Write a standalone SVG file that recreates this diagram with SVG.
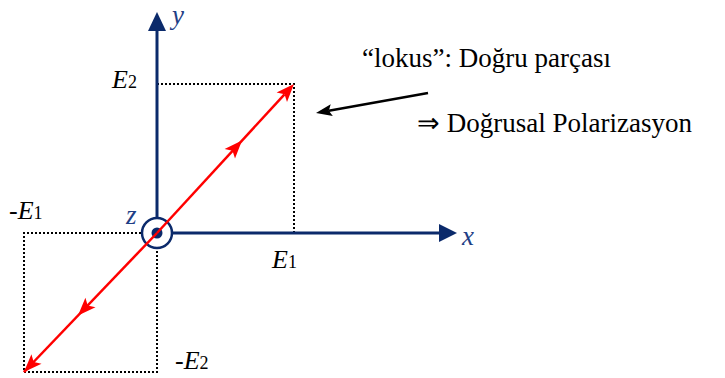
<svg xmlns="http://www.w3.org/2000/svg" width="725" height="378" viewBox="0 0 725 378">
<g id="guides" stroke="#000" stroke-width="2" stroke-dasharray="2 2" fill="none">
<path d="M157,84 H294 V233"/>
<path d="M157,233 H24 V372 H157 V233"/>
</g>
<g id="axes">
<line x1="157" y1="233" x2="157" y2="30" stroke="#0b2a6b" stroke-width="3"/>
<path d="M148,31 L157,12 L166,31 z" fill="#0b2a6b"/>
<line x1="157" y1="233" x2="440" y2="233" stroke="#0b2a6b" stroke-width="3"/>
<path d="M439,224 L457,233 L439,242 z" fill="#0b2a6b"/>
<circle cx="157" cy="233" r="15" fill="#fff" stroke="#0b2a6b" stroke-width="2.5"/>
<circle cx="157" cy="233" r="5.5" fill="#0b2a6b"/>
<text x="172" y="24" font-family="Liberation Serif" font-size="27" font-style="italic" fill="#1f3f86">y</text>
<text x="462" y="245" font-family="Liberation Serif" font-size="27" font-style="italic" fill="#1f3f86">x</text>
<text x="126" y="224" font-family="Liberation Serif" font-size="27" font-style="italic" fill="#1f3f86">z</text>
</g>
<g id="connectors">
<g stroke="#ff0000" stroke-width="2.5" fill="none">
<line x1="157" y1="233" x2="284.5" y2="94.3"/>
<line x1="24" y1="372" x2="157" y2="233"/>
<line x1="33.7" y1="361.9" x2="24" y2="372"/>
</g>
<g fill="#ff0000">
<path d="M294,84 L287,102 L284.5,94.3 L276.6,92.5 z"/>
<path d="M242,140.5 L235,158.5 L232.5,150.8 L224.6,149 z"/>
<path d="M24,372 L41.5,363.8 L33.7,361.9 L31.4,354.2 z"/>
<path d="M78,315.5 L95.5,307.3 L87.7,305.4 L85.4,297.7 z"/>
</g>
<line x1="428" y1="93" x2="328.8" y2="110.7" stroke="#000" stroke-width="2.5"/>
<path d="M316,113 L332.8,116.1 L328.8,110.7 L330.7,104.3 z" fill="#000"/>
</g>
<g id="labels" fill="#000">
<text x="112" y="88" font-family="Liberation Serif" font-size="26"><tspan font-style="italic">E</tspan><tspan font-size="18">2</tspan></text>
<text x="9" y="219" font-family="Liberation Serif" font-size="26">-<tspan font-style="italic">E</tspan><tspan font-size="18">1</tspan></text>
<text x="272" y="268" font-family="Liberation Serif" font-size="26"><tspan font-style="italic">E</tspan><tspan font-size="18">1</tspan></text>
<text x="175" y="369" font-family="Liberation Serif" font-size="26">-<tspan font-style="italic">E</tspan><tspan font-size="18">2</tspan></text>
<text x="362" y="67" font-family="Liberation Serif" font-size="27">“lokus”: Doğru parçası</text>
<text x="417" y="132" font-family="Liberation Serif" font-size="27">⇒ Doğrusal Polarizasyon</text>
</g>
</svg>
